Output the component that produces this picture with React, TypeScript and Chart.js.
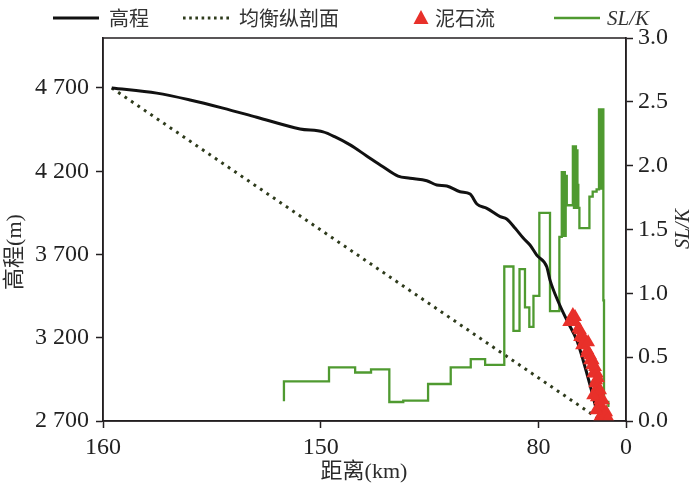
import React, { useEffect, useRef } from 'react';
import { Chart, registerables } from 'chart.js';

Chart.register(...registerables);

// x is a position along the axis: tick labels are as printed in the figure
const X_TICKS = [0, 100, 200, 240.2];
const X_TICK_LABELS = ['160', '150', '80', '0'];
const Y_TICKS = [2700, 3200, 3700, 4200, 4700];
const Y_TICK_LABELS = ['2 700', '3 200', '3 700', '4 200', '4 700'];
const Y2_TICKS = [0, 0.5, 1, 1.5, 2, 2.5, 3];

// 高程 (elevation profile)
const ELEV_X = [4.0, 24.7, 40.0, 55.1, 70.6, 90.5, 101.1, 106.6, 113.5, 121.1, 128.6, 135.5, 141.0, 148.7, 153.3, 157.9, 164.0, 168.6, 171.7, 176.3, 182.4, 185.4, 189.3, 193.1, 196.1, 199.2, 203.8, 205.3, 209.1, 213.0, 217.6, 220.5, 223.7, 226.9];
const ELEV_Y = [4700, 4669, 4628, 4579, 4524, 4454, 4436, 4406, 4358, 4292, 4227, 4171, 4158, 4143, 4117, 4111, 4077, 4063, 4003, 3977, 3927, 3913, 3857, 3797, 3757, 3696, 3626, 3546, 3416, 3306, 3185, 3065, 2915, 2752];

// 均衡纵剖面 (equilibrium profile)
const EQ_X = [4.0, 226.9];
const EQ_Y = [4700, 2720];

// 泥石流 (debris flows)
const DF_X = [215.8, 216.8, 216.8, 218.3, 219.1, 219.9, 219.1, 220.6, 221.4, 222.2, 222.5, 223.7, 223.7, 224.9, 225.2, 226.0, 226.0, 226.8, 226.5, 227.1, 226.8, 227.5, 228.3, 228.3, 229.1, 229.8, 229.8, 230.6, 228.3, 230.6, 214.1, 220.0, 222.8, 224.6, 227.4, 228.3, 229.7, 231.1, 232.0, 225.1, 226.5];
const DF_Y = [3336, 3325, 3295, 3256, 3245, 3215, 3205, 3197, 3185, 3107, 3125, 3095, 3065, 3065, 2987, 3025, 2927, 2985, 2945, 2904, 2843, 2865, 2824, 2782, 2784, 2754, 2716, 2724, 2724, 2734, 3294, 3155, 3173, 3035, 2957, 2885, 2824, 2752, 2716, 2855, 2764];

// SL/K step profile: level i holds between SLK_EDGES[i] and SLK_EDGES[i+1]
const SLK_START = 0.155;
const SLK_END = 0.11;
const SLK_EDGES = [83.1, 103.8, 115.8, 123.1, 131.5, 137.9, 149.3, 159.7, 168.9, 175.5, 184.3, 188.5, 191.3, 193.8, 195.8, 197.7, 200.4, 205.3, 209.6, 210.7, 211.2, 211.6, 212.1, 212.5, 213.0, 215.8, 216.3, 216.7, 217.2, 217.6, 217.9, 218.3, 218.8, 223.4, 224.9, 226.7, 227.8, 228.3, 228.8, 229.3, 229.8, 230.1, 232.1];
const SLK_LEVELS = [0.31, 0.42, 0.38, 0.405, 0.149, 0.16, 0.29, 0.42, 0.484, 0.44, 1.21, 0.706, 1.19, 0.89, 0.737, 0.98, 1.63, 0.86, 1.443, 1.95, 1.45, 1.95, 1.45, 1.92, 1.69, 2.15, 1.67, 2.15, 1.67, 2.12, 1.85, 1.67, 1.51, 1.757, 1.796, 1.815, 2.44, 1.82, 2.44, 2.44, 0.945, 0.149];

const SERIF = "'Liberation Serif', 'Noto Sans CJK SC', serif";
const CJK = "'Noto Sans CJK SC', 'Liberation Serif', sans-serif";
const INK = '#231f20';
const GREEN = '#4f9a30';
const RED = '#e8302a';
const DOT = '#2e3b1c';

function buildSteps() {
  const pts: { x: number; y: number }[] = [{ x: SLK_EDGES[0], y: SLK_START }];
  SLK_LEVELS.forEach((lv, i) => {
    pts.push({ x: SLK_EDGES[i], y: lv });
    pts.push({ x: SLK_EDGES[i + 1], y: lv });
  });
  pts.push({ x: SLK_EDGES[SLK_EDGES.length - 1], y: SLK_END });
  return pts;
}

const extrasPlugin = {
  id: 'extras',
  afterDraw(chart: any) {
    const { ctx, chartArea: a } = chart;
    ctx.save();
    // frame
    ctx.strokeStyle = INK;
    ctx.lineWidth = 1.5;
    ctx.strokeRect(a.left, a.top, a.right - a.left, a.bottom - a.top);

    // axis titles
    ctx.fillStyle = '#2b2b2b';
    ctx.textBaseline = 'middle';
    ctx.textAlign = 'center';
    ctx.font = `22px ${SERIF}`;
    ctx.fillText('距离(km)', 364, 472);

    ctx.save();
    ctx.translate(15, 252);
    ctx.rotate(-Math.PI / 2);
    ctx.fillText('高程(m)', 0, 0);
    ctx.restore();

    ctx.save();
    ctx.translate(684, 229);
    ctx.rotate(-Math.PI / 2);
    ctx.font = `italic 20px ${SERIF}`;
    ctx.fillText('SL/K', 0, 0);
    ctx.restore();

    // legend
    const ly = 18;
    ctx.textAlign = 'left';
    ctx.fillStyle = '#333';
    ctx.lineCap = 'butt';
    // 高程
    ctx.strokeStyle = '#111';
    ctx.lineWidth = 3;
    ctx.beginPath();
    ctx.moveTo(53, ly);
    ctx.lineTo(99, ly);
    ctx.stroke();
    ctx.font = `20px ${CJK}`;
    ctx.fillText('高程', 109, ly);
    // 均衡纵剖面
    ctx.strokeStyle = DOT;
    ctx.lineWidth = 2.8;
    ctx.setLineDash([2.6, 3.6]);
    ctx.beginPath();
    ctx.moveTo(183, ly);
    ctx.lineTo(229, ly);
    ctx.stroke();
    ctx.setLineDash([]);
    ctx.fillText('均衡纵剖面', 239, ly);
    // 泥石流
    ctx.fillStyle = RED;
    ctx.beginPath();
    ctx.moveTo(421, ly - 8);
    ctx.lineTo(428.5, ly + 6);
    ctx.lineTo(413.5, ly + 6);
    ctx.closePath();
    ctx.fill();
    ctx.fillStyle = '#333';
    ctx.fillText('泥石流', 435, ly);
    // SL/K
    ctx.strokeStyle = GREEN;
    ctx.lineWidth = 2.5;
    ctx.beginPath();
    ctx.moveTo(554, ly);
    ctx.lineTo(600, ly);
    ctx.stroke();
    ctx.font = `italic 21px ${SERIF}`;
    ctx.fillText('SL/K', 607, ly + 1);
    ctx.restore();
  },
};

export default function App() {
  const ref = useRef<HTMLCanvasElement | null>(null);

  useEffect(() => {
    document.body.style.margin = '0';
    const canvas = ref.current;
    if (!canvas) return;

    const tickFont = { family: SERIF, size: 24 };
    const gridCommon = {
      drawOnChartArea: false,
      drawTicks: true,
      tickLength: 7,
      tickColor: INK,
      tickWidth: 1.5,
    };
    const borderCommon = { color: INK, width: 1.5 };

    const chart = new Chart(canvas, {
      type: 'line',
      data: {
        datasets: [
          {
            label: '泥石流',
            type: 'scatter',
            data: DF_X.map((x, i) => ({ x, y: DF_Y[i] })),
            yAxisID: 'y',
            showLine: false,
            pointStyle: 'triangle',
            pointRadius: 8,
            pointBackgroundColor: RED,
            pointBorderColor: RED,
            pointBorderWidth: 0,
          },
          {
            label: '高程',
            data: ELEV_X.map((x, i) => ({ x, y: ELEV_Y[i] })),
            yAxisID: 'y',
            borderColor: '#111',
            borderWidth: 3,
            pointRadius: 0,
            cubicInterpolationMode: 'monotone',
            fill: false,
          },
          {
            label: 'SL/K',
            data: buildSteps(),
            yAxisID: 'y2',
            borderColor: GREEN,
            borderWidth: 2.3,
            pointRadius: 0,
            tension: 0,
            fill: false,
            borderJoinStyle: 'miter',
          },
          {
            label: '均衡纵剖面',
            data: EQ_X.map((x, i) => ({ x, y: EQ_Y[i] })),
            yAxisID: 'y',
            borderColor: DOT,
            borderWidth: 3,
            borderDash: [2.8, 5],
            pointRadius: 0,
            fill: false,
          },
        ],
      } as any,
      options: {
        animation: false,
        responsive: false,
        maintainAspectRatio: false,
        layout: { padding: { top: 38, left: 0, right: 0, bottom: 0 } },
        plugins: { legend: { display: false }, tooltip: { enabled: false } },
        scales: {
          x: {
            type: 'linear',
            min: 0,
            max: 240.2,
            afterBuildTicks: (s: any) => {
              s.ticks = X_TICKS.map((v) => ({ value: v }));
            },
            afterFit: (s: any) => {
              s.height = 72;
            },
            ticks: {
              autoSkip: false,
              maxRotation: 0,
              padding: 5,
              color: '#222',
              font: tickFont,
              callback: (_v: any, i: number) => X_TICK_LABELS[i],
            },
            grid: gridCommon,
            border: borderCommon,
          },
          y: {
            type: 'linear',
            position: 'left',
            min: 2700,
            max: 5000,
            afterBuildTicks: (s: any) => {
              s.ticks = Y_TICKS.map((v) => ({ value: v }));
            },
            afterFit: (s: any) => {
              s.width = 103;
            },
            ticks: {
              padding: 7,
              color: '#222',
              font: tickFont,
              callback: (_v: any, i: number) => Y_TICK_LABELS[i],
            },
            grid: gridCommon,
            border: borderCommon,
          },
          y2: {
            type: 'linear',
            position: 'right',
            min: 0,
            max: 3,
            afterBuildTicks: (s: any) => {
              s.ticks = Y2_TICKS.map((v) => ({ value: v }));
            },
            afterFit: (s: any) => {
              s.width = 74;
            },
            ticks: {
              padding: 5,
              color: '#222',
              font: tickFont,
              callback: (v: any) => Number(v).toFixed(1),
            },
            grid: gridCommon,
            border: borderCommon,
          },
        },
      } as any,
      plugins: [extrasPlugin],
    });

    return () => chart.destroy();
  }, []);

  return (
    <div style={{ width: 700, height: 493, background: '#fff' }}>
      <canvas ref={ref} width={700} height={493} style={{ display: 'block' }} />
    </div>
  );
}
